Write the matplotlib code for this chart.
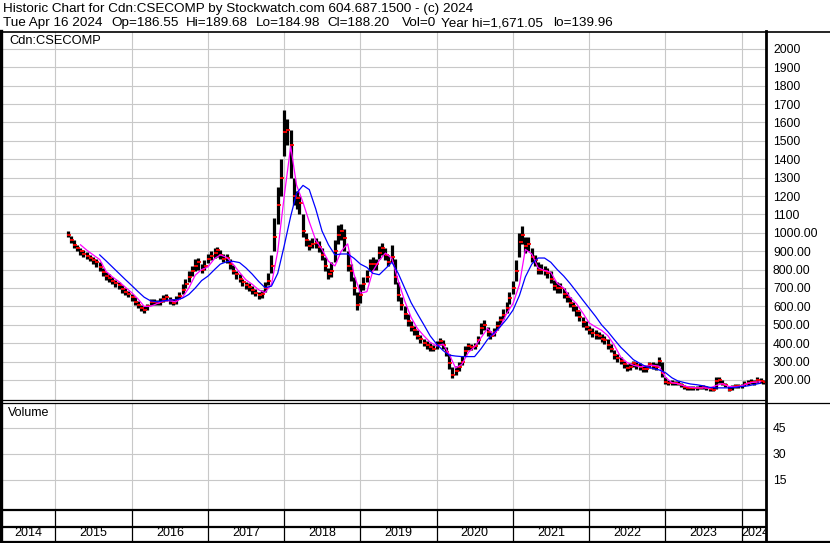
import matplotlib
matplotlib.use("Agg")
import matplotlib.pyplot as plt
import pandas as pd
from matplotlib.lines import Line2D

plt.rcParams["font.family"] = ["Liberation Sans", "DejaVu Sans"]

# -------------------------------------------------
# DATA (half-month bars)
# -------------------------------------------------

bar_start = "2015-03-01"

close = [
    990, 960, 935, 915, 900, 885, 875, 865, 850, 840, 815, 785, 765, 755, 740, 725, 715, 695, 680, 670,          # 2015
    650, 625, 610, 590, 580, 600, 625, 625, 620, 625, 640, 650, 635, 620, 635, 655, 690, 720, 760, 790, 820, 840, 800, 820,  # 2016
    860, 875, 890, 905, 880, 860, 865, 830, 795, 775, 750, 730, 715, 705, 690, 675, 660, 665, 700, 740, 820, 980, 1150, 1300,  # 2017
    1550, 1560, 1480, 1200, 1190, 1160, 1010, 960, 930, 940, 945, 925, 880, 820, 775, 790, 900, 990, 1010, 970, 820, 790, 700, 610,  # 2018
    660, 720, 760, 830, 830, 830, 890, 915, 880, 840, 870, 760, 660, 610, 560, 520, 490, 470, 440, 420, 400, 390, 380, 370,  # 2019
    390, 410, 390, 350, 290, 225, 250, 270, 300, 360, 385, 380, 385, 415, 480, 500, 460, 440, 460, 495, 525, 555, 590, 645,  # 2020
    700, 790, 950, 990, 930, 940, 870, 850, 800, 800, 795, 780, 750, 710, 700, 700, 670, 650, 620, 600, 575, 545, 515, 490,  # 2021
    470, 455, 445, 440, 425, 415, 390, 370, 335, 320, 305, 285, 265, 272, 290, 280, 272, 260, 260, 285, 275, 270, 305, 240,  # 2022
    190, 185, 185, 183, 180, 175, 162, 157, 157, 157, 157, 158, 160, 157, 150, 148, 195, 200, 180, 170, 148, 160, 165, 165,  # 2023
    168, 180, 185, 190, 188, 200, 195, 188,                                                                       # 2024
]

high = [
    1010, 985, 960, 935, 920, 905, 895, 880, 870, 855, 840, 810, 785, 775, 760, 745, 730, 715, 700, 685,
    670, 650, 630, 610, 600, 615, 640, 640, 635, 645, 660, 665, 650, 640, 655, 680, 720, 750, 790, 820, 860, 865, 830, 850,
    885, 900, 920, 925, 905, 885, 885, 860, 825, 795, 775, 750, 735, 725, 710, 695, 680, 690, 730, 780, 880, 1080, 1250, 1400,
    1670, 1620, 1560, 1300, 1230, 1200, 1100, 1000, 960, 970, 970, 955, 920, 870, 810, 840, 960, 1040, 1050, 1020, 900, 830, 760, 680,
    720, 760, 800, 860, 870, 860, 930, 945, 920, 880, 935, 860, 730, 650, 600, 560, 520, 495, 470, 445, 425, 410, 400, 390,
    410, 430, 415, 380, 340, 270, 275, 295, 330, 385, 400, 395, 400, 440, 510, 525, 490, 465, 480, 520, 550, 585, 625, 680,
    740, 850, 1000, 1035, 980, 975, 920, 880, 840, 830, 820, 810, 790, 745, 730, 725, 700, 680, 650, 625, 600, 575, 545, 520,
    495, 480, 470, 460, 450, 440, 420, 395, 365, 340, 325, 305, 285, 290, 305, 300, 290, 280, 280, 300, 295, 290, 325, 300,
    215, 200, 198, 195, 192, 186, 175, 168, 168, 168, 168, 170, 172, 168, 162, 160, 215, 215, 200, 185, 165, 172, 178, 178,
    180, 195, 200, 205, 202, 215, 210, 198,
]

low = [
    975, 945, 920, 900, 880, 870, 855, 845, 830, 815, 795, 765, 745, 735, 720, 705, 695, 675, 660, 650,
    630, 605, 590, 575, 565, 580, 605, 610, 605, 610, 625, 630, 615, 605, 615, 640, 670, 700, 735, 765, 795, 800, 780, 800,
    835, 850, 865, 870, 855, 840, 835, 805, 775, 750, 730, 710, 695, 685, 670, 655, 640, 645, 680, 715, 780, 900, 1050, 1200,
    1420, 1480, 1300, 1150, 1130, 1100, 980, 930, 905, 915, 915, 895, 850, 790, 750, 760, 840, 940, 960, 900, 790, 740, 660, 580,
    620, 690, 730, 790, 800, 800, 860, 880, 850, 820, 840, 720, 630, 580, 530, 495, 465, 445, 420, 400, 385, 370, 360, 355,
    370, 390, 370, 330, 260, 210, 225, 250, 280, 330, 365, 365, 370, 395, 450, 470, 440, 420, 440, 470, 500, 530, 565, 615,
    670, 740, 870, 940, 890, 900, 840, 820, 775, 775, 770, 755, 725, 690, 675, 675, 645, 625, 595, 575, 550, 520, 490, 470,
    450, 435, 425, 420, 405, 395, 370, 350, 315, 300, 285, 265, 250, 255, 270, 262, 255, 245, 245, 265, 260, 255, 275, 215,
    180, 175, 175, 172, 170, 164, 152, 148, 148, 148, 148, 150, 150, 147, 142, 140, 150, 185, 170, 160, 140, 148, 155, 155,
    158, 168, 172, 178, 175, 185, 182, 180,
]

# moving averages, monthly readings
ma_short_start = "2015-05-01"
ma_short = [
    935, 905, 880, 855, 790, 760, 735, 705,
    675, 640, 600, 600, 615, 630, 630, 625, 650, 700, 770, 800,
    815, 860, 880, 866, 830, 785, 745, 720, 690, 675, 720, 900,
    1200, 1470, 1260, 1165, 1060, 960, 910, 845, 820, 900, 940, 775,
    672, 680, 790, 850, 890, 860, 740, 630, 540, 480, 440, 405,
    385, 395, 340, 265, 285, 350, 380, 430, 480, 445, 490, 560,
    615, 720, 910, 885, 810, 795, 785, 725, 700, 650, 615, 565,
    510, 488, 470, 440, 390, 325, 295, 280, 272, 275, 280, 275,
    215, 185, 180, 168, 160, 157, 157, 155, 170, 180, 165, 162,
    168, 182, 188, 190,
]

ma_long_start = "2015-08-01"
ma_long = [
    880, 847, 814, 780, 747,
    714, 680, 650, 630, 625, 630, 635, 636, 645, 665, 700, 740,
    765, 800, 830, 843, 845, 838, 810, 775, 735, 702, 710, 780,
    930, 1090, 1215, 1258, 1235, 1130, 1010, 935, 880, 885, 885, 862,
    830, 812, 780, 772, 805, 840, 780, 700, 620, 560, 500, 440,
    395, 360, 335, 330, 327, 327, 327, 370, 420, 455, 490, 530,
    580, 660, 760, 830, 863, 863, 840, 800, 765, 725, 680, 635,
    590, 545, 500, 462, 420, 378, 345, 310, 290, 272, 263, 255,
    240, 212, 195, 186, 178, 174, 168, 160, 157, 157, 157, 160,
    164, 168, 175, 182,
]

price_ticks = list(range(200, 2001, 100))
price_labels = [f"{v}.00" if v <= 1000 else str(v) for v in price_ticks]
vol_ticks = [15, 30, 45]
years = list(range(2014, 2025))

header1 = "Historic Chart for Cdn:CSECOMP by Stockwatch.com 604.687.1500 - (c) 2024"
header2 = ["Tue Apr 16 2024", "Op=186.55", "Hi=189.68", "Lo=184.98",
           "Cl=188.20", "Vol=0", "Year hi=1,671.05", "lo=139.96"]
header2_x = [3, 111, 186, 256, 327, 402, 441, 553]

# -------------------------------------------------
# LAYOUT (pixel helpers)
# -------------------------------------------------

W, H = 830, 543
fig = plt.figure(figsize=(W / 100, H / 100), dpi=100)


def rect(x0, y0, x1, y1):
    return [x0 / W, 1 - y1 / H, (x1 - x0) / W, (y1 - y0) / H]


def line(x0, y0, x1, y1, lw):
    fig.add_artist(Line2D([x0 / W, x1 / W], [1 - y0 / H, 1 - y1 / H],
                          transform=fig.transFigure, color="black", lw=lw))


xmin = pd.Timestamp("2014-04-20")
xmax = pd.Timestamp("2024-04-27")
year_lines = [pd.Timestamp(f"{y}-01-01") for y in years[1:]]

bar_dates = pd.date_range(bar_start, periods=len(close), freq="SMS")
short_dates = pd.date_range(ma_short_start, periods=len(ma_short), freq="MS")
long_dates = pd.date_range(ma_long_start, periods=len(ma_long), freq="MS")

# -------------------------------------------------
# PRICE PANEL
# -------------------------------------------------

ax = fig.add_axes(rect(2, 32, 766, 400))
ax.set_xlim(xmin, xmax)
ax.set_ylim(91, 2092)
ax.set_xticks(year_lines)
ax.set_yticks(price_ticks)
ax.set_yticklabels(price_labels)
ax.yaxis.tick_right()
ax.tick_params(axis="y", length=0, pad=5, labelsize=8.7)
ax.tick_params(axis="x", length=0, labelbottom=False)
ax.grid(color="#c8c8c8", lw=0.8)
ax.set_axisbelow(True)
for s in ax.spines.values():
    s.set_visible(False)

ax.vlines(bar_dates, low, high, color="black", lw=2.3)
ax.plot(bar_dates + pd.Timedelta(days=5), close, ls="none",
        marker="_", ms=2.5, mew=1.3, color="red")
ax.plot(short_dates, ma_short, color="#ff00ff", lw=0.9)
ax.plot(long_dates, ma_long, color="#0000ff", lw=0.9)

ax.text(7 / 764, 1 - 9 / 368, "Cdn:CSECOMP", transform=ax.transAxes,
        fontsize=9.3, va="center", ha="left")

# -------------------------------------------------
# VOLUME PANEL
# -------------------------------------------------

vx = fig.add_axes(rect(2, 403, 766, 510))
vx.set_xlim(xmin, xmax)
vx.set_ylim(-2.3, 59.4)
vx.set_xticks(year_lines)
vx.set_yticks(vol_ticks)
vx.yaxis.tick_right()
vx.tick_params(axis="y", length=0, pad=5, labelsize=8.7)
vx.tick_params(axis="x", length=0, labelbottom=False)
vx.grid(color="#c8c8c8", lw=0.8)
for s in vx.spines.values():
    s.set_visible(False)
vx.text(6 / 764, 1 - 10 / 107, "Volume", transform=vx.transAxes,
        fontsize=9, va="center", ha="left")

# -------------------------------------------------
# DATE ROWS
# -------------------------------------------------

dx = fig.add_axes(rect(2, 510, 766, 541))
dx.set_xlim(xmin, xmax)
dx.set_ylim(0, 1)
dx.axis("off")
dx.vlines(year_lines, 0, 1, color="black", lw=0.9)
edges = [xmin] + year_lines + [xmax]
for i, y in enumerate(years):
    if y == years[-1]:
        dx.text(edges[i], 0.25, str(y), ha="left", va="center",
                fontsize=9, clip_on=True)
    else:
        mid = edges[i] + (edges[i + 1] - edges[i]) / 2
        dx.text(mid, 0.25, str(y), ha="center", va="center", fontsize=9)

# -------------------------------------------------
# FRAME LINES
# -------------------------------------------------

line(0, 31.5, W, 31.5, 1.2)
line(1, 31, 1, 542, 2.4)
line(766, 31, 766, 542, 2.0)
line(2, 400, 766, 400, 0.9)
line(2, 402.5, W, 402.5, 0.9)
line(2, 510, 766, 510, 1.6)
line(2, 527, 766, 527, 1.6)
line(0, 541.5, W, 541.5, 1.6)

fig.text(3 / W, 1 - 9 / H, header1, fontsize=9.7, va="center", ha="left")
for txt, x in zip(header2, header2_x):
    fig.text(x / W, 1 - 23 / H, txt, fontsize=9.7, va="center", ha="left")

plt.savefig("out.png", dpi=100)
